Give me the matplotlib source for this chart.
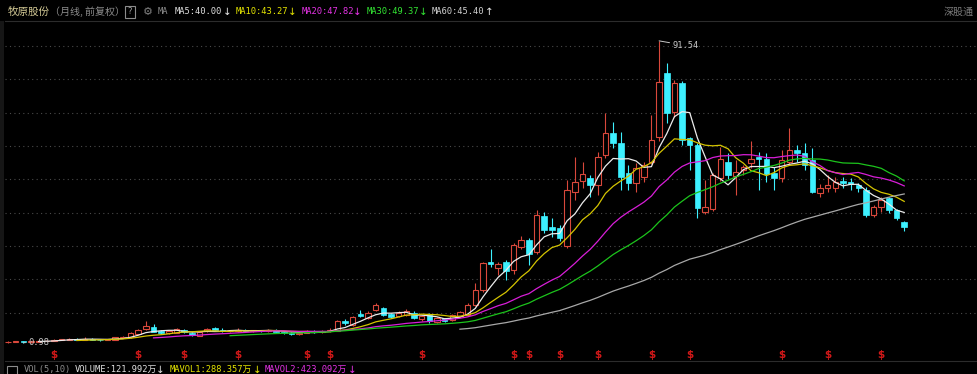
import matplotlib
matplotlib.use('Agg')
import matplotlib.pyplot as plt
from matplotlib.patches import Rectangle
from matplotlib.lines import Line2D
import numpy as np
import pandas as pd

# ---------------- data (monthly OHLC, forward adjusted) ----------------
opens = [1.10, 1.20, 1.40, 1.15, 1.35, 1.55, 1.65, 1.90, 1.95, 2.20,
         1.95, 2.20, 1.95, 1.80, 1.90, 2.55, 2.70, 3.75, 5.00, 5.70,
         4.50, 4.00, 4.00, 4.70, 4.00, 3.00, 4.50, 5.50, 4.80, 4.40,
         4.40, 4.80, 4.60, 4.70, 4.50, 4.80, 4.30, 3.80, 3.60, 4.00,
         4.60, 4.10, 4.40, 4.60, 7.60, 6.30, 9.60, 8.30, 10.80, 11.30,
         9.60, 9.00, 9.30, 10.00, 8.00, 9.30, 7.30, 8.30, 7.70, 9.00,
         9.30, 12.30, 16.80, 25.30, 23.30, 25.30, 22.80, 29.80, 31.80, 28.30,
         39.00, 35.80, 35.30, 30.00, 46.30, 49.60, 50.30, 48.30, 57.30, 63.80,
         60.80, 51.80, 48.80, 50.80, 55.30, 62.80, 81.80, 70.30, 78.80, 62.30,
         60.30, 40.30, 41.00, 50.30, 55.30, 51.00, 52.80, 54.80, 56.80, 56.00,
         51.80, 50.30, 55.30, 58.80, 57.80, 55.80, 46.00, 47.30, 47.30, 49.60,
         49.30, 48.30, 46.80, 39.30, 41.80, 44.30, 40.80, 37.30]
highs = [1.45, 1.55, 1.45, 1.55, 1.70, 1.80, 2.05, 2.10, 2.40, 2.30,
         2.70, 2.30, 2.10, 2.10, 2.80, 3.00, 4.20, 5.10, 7.40, 6.60,
         4.80, 4.80, 5.40, 5.00, 4.30, 4.50, 5.50, 5.80, 5.50, 4.70,
         5.40, 5.00, 4.90, 4.80, 5.10, 5.00, 4.50, 4.10, 4.60, 4.90,
         4.80, 4.70, 5.30, 7.90, 8.00, 9.10, 10.80, 10.40, 13.00, 11.60,
         9.90, 10.60, 11.00, 10.40, 9.40, 9.80, 8.60, 8.50, 9.60, 10.60,
         12.80, 18.80, 25.30, 29.00, 25.30, 25.80, 30.80, 33.00, 32.30, 40.80,
         40.30, 38.30, 36.30, 49.80, 56.80, 55.30, 51.30, 58.30, 69.80, 67.30,
         64.30, 54.30, 54.80, 55.30, 69.30, 91.54, 84.80, 79.80, 79.60, 62.80,
         61.00, 49.80, 51.80, 59.80, 57.80, 55.80, 54.30, 61.60, 58.30, 57.80,
         53.80, 58.80, 65.30, 60.30, 60.80, 59.30, 48.50, 51.30, 50.80, 50.80,
         50.30, 48.80, 47.80, 42.30, 44.60, 44.80, 41.20, 37.50]
lows = [1.02, 1.10, 0.98, 1.05, 1.25, 1.40, 1.55, 1.75, 1.85, 1.85,
        1.90, 1.85, 1.65, 1.70, 1.80, 2.35, 2.55, 3.50, 4.70, 4.10,
        3.50, 3.70, 3.80, 4.00, 3.00, 2.90, 4.30, 4.50, 4.20, 4.10,
        4.20, 4.40, 4.30, 4.20, 4.30, 4.10, 3.60, 3.40, 3.40, 3.80,
        3.90, 3.90, 4.10, 4.40, 6.40, 6.00, 8.80, 8.00, 10.50, 9.00,
        8.30, 8.80, 9.00, 8.00, 7.60, 6.80, 7.00, 7.30, 7.50, 8.80,
        9.00, 12.00, 16.20, 23.80, 21.30, 19.80, 21.50, 29.00, 24.30, 27.50,
        33.80, 32.80, 31.50, 29.50, 43.80, 47.30, 44.80, 45.30, 56.50, 59.30,
        46.80, 46.80, 46.30, 49.30, 54.50, 61.50, 66.80, 68.80, 60.30, 52.80,
        38.30, 39.50, 40.50, 49.50, 50.00, 45.30, 51.30, 53.50, 46.80, 49.30,
        46.80, 49.30, 54.50, 55.30, 52.80, 45.80, 44.80, 46.30, 46.30, 47.30,
        46.80, 46.30, 38.80, 38.80, 40.30, 39.80, 37.80, 34.60]
closes = [1.35, 1.40, 1.15, 1.35, 1.55, 1.65, 1.90, 1.95, 2.20, 1.95,
          2.20, 1.95, 1.80, 2.00, 2.60, 2.75, 3.90, 4.90, 5.90, 4.30,
          3.90, 4.50, 5.00, 4.20, 3.30, 4.30, 5.20, 4.70, 4.40, 4.50,
          4.80, 4.60, 4.70, 4.50, 4.80, 4.30, 3.80, 3.60, 4.00, 4.60,
          4.10, 4.40, 4.80, 7.60, 6.80, 8.80, 9.00, 10.00, 12.30, 9.30,
          8.60, 9.80, 10.60, 8.30, 9.00, 7.60, 8.30, 7.60, 9.30, 10.30,
          12.30, 16.80, 24.80, 24.60, 24.60, 22.60, 30.30, 31.80, 27.60, 39.30,
          34.80, 34.80, 32.30, 46.80, 49.30, 51.60, 48.30, 56.80, 63.80, 60.80,
          50.80, 48.80, 53.30, 54.30, 61.80, 79.30, 69.80, 78.80, 61.80, 60.30,
          41.30, 41.80, 51.30, 56.00, 51.30, 52.30, 53.60, 56.00, 56.00, 51.60,
          50.30, 55.80, 58.80, 58.00, 54.30, 46.30, 47.30, 48.30, 49.30, 49.00,
          48.60, 47.30, 39.30, 41.60, 43.80, 40.80, 38.30, 35.80]
dividend_idx = [6, 17, 23, 30, 39, 42, 54, 66, 68, 72, 77, 84, 89, 101, 107, 114]
grid_levels = [10, 20, 30, 40, 50, 60, 70, 80, 90]
ma_periods = [5, 10, 20, 30, 60]
ma_colors = ['#ececec', '#d4c400', '#d81ed8', '#1cc41c', '#a8a8a8']

title_name = '牧原股份'
title_sub = '（月线, 前复权）'
header_items = [('MA5:40.00', '#e0e0e0', '↓'), ('MA10:43.27', '#e6e600', '↓'),
                ('MA20:47.82', '#e633e6', '↓'), ('MA30:49.37', '#33e633', '↓'),
                ('MA60:45.40', '#d0d0d0', '↑')]
footer_items = [('VOLUME:121.992万', '#e0e0e0'), ('MAVOL1:288.357万', '#e6e600'),
                ('MAVOL2:423.092万', '#e633e6')]

# ---------------- figure ----------------
W, H = 977, 374
fig = plt.figure(figsize=(W / 100, H / 100), dpi=100, facecolor='black')


def fx(x):
    return x / W


def fy(y):
    return 1 - y / H


MONO = ['DejaVu Sans Mono', 'Noto Sans CJK SC']
CJK = ['Noto Sans CJK SC', 'DejaVu Sans']

ax = fig.add_axes([fx(5), fy(361), fx(977) - fx(5), fy(22) - fy(361)])
ax.set_facecolor('black')
for s in ax.spines.values():
    s.set_visible(False)
ax.set_xticks([])
ax.set_yticks([])
ax.set_xlim((5 - 8) / 7.66, (977 - 8) / 7.66)
ax.set_ylim(-4.5, 97.2)

for g in grid_levels:
    ax.axhline(g, color='#4a4a4a', lw=0.8, ls=(0, (1, 3)), zorder=0)

up_c = '#d9483b'
dn_c = '#3df0ff'
w = 0.72
n = len(closes)
for i in range(n):
    o, h, l, c = opens[i], highs[i], lows[i], closes[i]
    top, bot = max(o, c), min(o, c)
    if c >= o:
        ax.add_patch(Rectangle((i - w / 2, bot), w, max(top - bot, 0.08),
                               facecolor='black', edgecolor=up_c, lw=0.8, zorder=2))
        ax.vlines(i, top, h, color=up_c, lw=0.8, zorder=2)
        ax.vlines(i, l, bot, color=up_c, lw=0.8, zorder=2)
    else:
        ax.vlines(i, l, h, color=dn_c, lw=0.8, zorder=2)
        ax.add_patch(Rectangle((i - w / 2, bot), w, max(top - bot, 0.08),
                               facecolor=dn_c, edgecolor=dn_c, lw=0.5, zorder=2))

s = pd.Series(closes)
xs = np.arange(n)
for p, col in zip(ma_periods, ma_colors):
    ax.plot(xs, s.rolling(p).mean(), color=col, lw=0.9, zorder=3)

for i in dividend_idx:
    ax.text(i, -2.8, '$', color='#d01818', fontsize=7.5, fontweight='bold',
            ha='center', va='center', family='DejaVu Sans', zorder=4)

imax = int(np.argmax(highs))
imin = int(np.argmin(lows))
ax.annotate(f'{highs[imax]:.2f}', xy=(imax, highs[imax]), xytext=(9.5, -3.3),
            textcoords='offset points', color='#c8c8c8', fontsize=6.3, family=MONO,
            ha='left', va='center',
            arrowprops=dict(arrowstyle='-', color='#c8c8c8', lw=0.7, shrinkA=0, shrinkB=0))
ax.annotate(f'{lows[imin]:.2f}', xy=(imin, lows[imin]), xytext=(3.5, 0.5),
            textcoords='offset points', color='#c8c8c8', fontsize=6.3, family=MONO,
            ha='left', va='center',
            arrowprops=dict(arrowstyle='-', color='#c8c8c8', lw=0.7, shrinkA=0, shrinkB=0))

# ---------------- frame decorations ----------------
fig.patches.append(Rectangle((0, 0), fx(4), fy(21), transform=fig.transFigure,
                             facecolor='#161616', edgecolor='none'))
fig.add_artist(Line2D([fx(5), 1], [fy(21), fy(21)], color='#2c2c2c', lw=0.8))
fig.add_artist(Line2D([fx(5), 1], [fy(361), fy(361)], color='#2c2c2c', lw=0.8))

# header
ty = fy(12)
fig.text(fx(8), ty, title_name, color='#d2c894', fontsize=7.6, family=CJK, va='center')
fig.text(fx(50), ty, title_sub, color='#8c8c8c', fontsize=7.2, family=CJK, va='center')
fig.patches.append(Rectangle((fx(125), fy(18)), fx(10), fy(6) - fy(18),
                             transform=fig.transFigure, facecolor='none',
                             edgecolor='#8c8c8c', lw=0.8))
fig.text(fx(130), ty, '?', color='#a0a0a0', fontsize=6, family='DejaVu Sans',
         va='center', ha='center')
fig.text(fx(147.5), ty, '⚙', color='#808080', fontsize=8, family='DejaVu Sans',
         va='center', ha='center')
fig.text(fx(158), ty, 'MA', color='#8c8c8c', fontsize=6.3, family=MONO, va='center')
hx = [175, 236, 302, 367, 432]
ax_arrow = [227, 292, 357, 423, 489]
for (lab, col, arr), x0, xa in zip(header_items, hx, ax_arrow):
    fig.text(fx(x0), ty, lab, color=col, fontsize=6.3, family=MONO, va='center')
    acol = col if arr == '↓' and col not in ('#e0e0e0', '#d0d0d0') else '#e8e8e8'
    fig.text(fx(xa), ty, arr, color=acol, fontsize=7.5, family='DejaVu Sans',
             va='center', ha='center')
fig.text(fx(974), ty, '深股通', color='#7c7c7c', fontsize=7.2, family=CJK,
         va='center', ha='right')

# footer (volume panel header, cut by the image edge)
by = fy(365)
fig.patches.append(Rectangle((fx(7), fy(376)), fx(10), fy(366) - fy(376),
                             transform=fig.transFigure, facecolor='none',
                             edgecolor='#8c8c8c', lw=0.8))
fig.text(fx(24), by, 'VOL(5,10)', color='#8c8c8c', fontsize=6.3, family=MONO, va='top')
for (lab, col), x0, xa in zip(footer_items, [75, 170, 265], [160, 257, 352]):
    fig.text(fx(x0), by, lab, color=col, fontsize=6.3, family=MONO, va='top')
    fig.text(fx(xa), by, '↓', color=col, fontsize=7.5, family='DejaVu Sans', va='top',
             ha='center')

fig.savefig('out.png', dpi=100, facecolor='black')
